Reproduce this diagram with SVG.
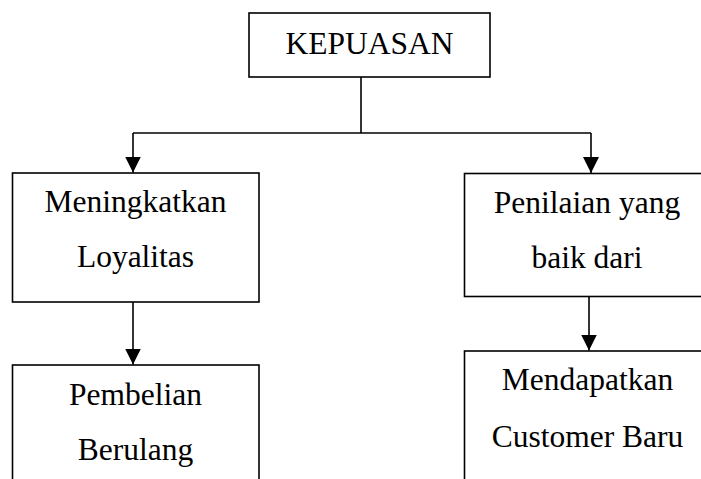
<svg xmlns="http://www.w3.org/2000/svg" width="701" height="479" viewBox="0 0 701 479">
<defs>
<style>
.box{fill:#fff;stroke:#000;stroke-width:1.6}
.t{font-family:"Liberation Serif","Times New Roman",serif;font-size:31.5px;fill:#000;text-anchor:middle}
.ln{fill:none;stroke:#000;stroke-width:1.6}
</style>
<marker id="ah" markerWidth="16" markerHeight="16" viewBox="0 0 16 16" refX="16" refY="8" orient="auto" markerUnits="userSpaceOnUse">
<path d="M0,0 L16,8 L0,16 Z" fill="#000"/>
</marker>
</defs>
<rect width="701" height="479" fill="#fff"/>
<g id="connectors">
<path class="ln" d="M361,77 V133"/>
<path class="ln" d="M133,133 H591"/>
<path class="ln" d="M133,133 V172.5" marker-end="url(#ah)"/>
<path class="ln" d="M591,133 V173" marker-end="url(#ah)"/>
<path class="ln" d="M133,302 V364.5" marker-end="url(#ah)"/>
<path class="ln" d="M589,296 V350.5" marker-end="url(#ah)"/>
</g>
<g id="kepuasan">
<rect class="box" x="249" y="13" width="241" height="64"/>
<text class="t" x="369.5" y="53.5">KEPUASAN</text>
</g>
<g id="meningkatkan">
<rect class="box" x="12.5" y="173" width="246.5" height="129"/>
<text class="t" x="135.5" y="211.5">Meningkatkan</text>
<text class="t" x="135.5" y="266.5">Loyalitas</text>
</g>
<g id="penilaian">
<rect class="box" x="464.5" y="173.5" width="250" height="123"/>
<text class="t" x="587" y="213">Penilaian yang</text>
<text class="t" x="587" y="268">baik dari</text>
</g>
<g id="pembelian">
<rect class="box" x="12.5" y="365" width="246.5" height="130"/>
<text class="t" x="135.5" y="405">Pembelian</text>
<text class="t" x="135.5" y="460">Berulang</text>
</g>
<g id="mendapatkan">
<rect class="box" x="464.5" y="351" width="250" height="140"/>
<text class="t" x="587.5" y="390">Mendapatkan</text>
<text class="t" x="587.5" y="446.5">Customer Baru</text>
</g>
</svg>
